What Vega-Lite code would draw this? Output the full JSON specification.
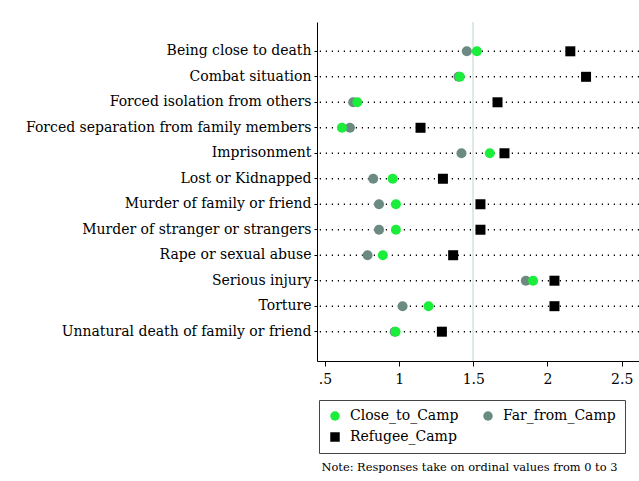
{
  "$schema": "https://vega.github.io/schema/vega-lite/v6.json",
  "width": 322,
  "height": 339,
  "autosize": "none",
  "padding": {"left": 317, "top": 22, "right": 0, "bottom": 120},
  "background": "white",
  "config": {
    "view": {"stroke": null},
    "font": "DejaVu Serif"
  },
  "data": {
    "values": [
      {"event": "Being close to death", "group": "Far_from_Camp", "value": 1.456},
      {"event": "Combat situation", "group": "Far_from_Camp", "value": 1.40},
      {"event": "Forced isolation from others", "group": "Far_from_Camp", "value": 0.69},
      {"event": "Forced separation from family members", "group": "Far_from_Camp", "value": 0.668},
      {"event": "Imprisonment", "group": "Far_from_Camp", "value": 1.42},
      {"event": "Lost or Kidnapped", "group": "Far_from_Camp", "value": 0.825},
      {"event": "Murder of family or friend", "group": "Far_from_Camp", "value": 0.864},
      {"event": "Murder of stranger or strangers", "group": "Far_from_Camp", "value": 0.864},
      {"event": "Rape or sexual abuse", "group": "Far_from_Camp", "value": 0.787},
      {"event": "Serious injury", "group": "Far_from_Camp", "value": 1.854},
      {"event": "Torture", "group": "Far_from_Camp", "value": 1.023},
      {"event": "Unnatural death of family or friend", "group": "Far_from_Camp", "value": 0.97},
      {"event": "Being close to death", "group": "Close_to_Camp", "value": 1.524},
      {"event": "Combat situation", "group": "Close_to_Camp", "value": 1.409},
      {"event": "Forced isolation from others", "group": "Close_to_Camp", "value": 0.718},
      {"event": "Forced separation from family members", "group": "Close_to_Camp", "value": 0.614},
      {"event": "Imprisonment", "group": "Close_to_Camp", "value": 1.611},
      {"event": "Lost or Kidnapped", "group": "Close_to_Camp", "value": 0.956},
      {"event": "Murder of family or friend", "group": "Close_to_Camp", "value": 0.978},
      {"event": "Murder of stranger or strangers", "group": "Close_to_Camp", "value": 0.978},
      {"event": "Rape or sexual abuse", "group": "Close_to_Camp", "value": 0.89},
      {"event": "Serious injury", "group": "Close_to_Camp", "value": 1.903},
      {"event": "Torture", "group": "Close_to_Camp", "value": 1.198},
      {"event": "Unnatural death of family or friend", "group": "Close_to_Camp", "value": 0.976},
      {"event": "Being close to death", "group": "Refugee_Camp", "value": 2.154},
      {"event": "Combat situation", "group": "Refugee_Camp", "value": 2.26},
      {"event": "Forced isolation from others", "group": "Refugee_Camp", "value": 1.663},
      {"event": "Forced separation from family members", "group": "Refugee_Camp", "value": 1.144},
      {"event": "Imprisonment", "group": "Refugee_Camp", "value": 1.71},
      {"event": "Lost or Kidnapped", "group": "Refugee_Camp", "value": 1.295},
      {"event": "Murder of family or friend", "group": "Refugee_Camp", "value": 1.548},
      {"event": "Murder of stranger or strangers", "group": "Refugee_Camp", "value": 1.548},
      {"event": "Rape or sexual abuse", "group": "Refugee_Camp", "value": 1.364},
      {"event": "Serious injury", "group": "Refugee_Camp", "value": 2.047},
      {"event": "Torture", "group": "Refugee_Camp", "value": 2.047},
      {"event": "Unnatural death of family or friend", "group": "Refugee_Camp", "value": 1.288}
    ]
  },
  "layer": [
    {
      "mark": {"type": "rule", "color": "#dfe7e5", "strokeWidth": 1},
      "encoding": {"x": {"datum": 1.5, "type": "quantitative", "scale": {"domain": [0.446, 2.617], "nice": false, "zero": false}}}
    },
    {
      "transform": [{"filter": "datum.group === 'Refugee_Camp'"}],
      "mark": {"type": "rule", "color": "black", "strokeWidth": 1.6, "strokeDash": [1.2, 4.8], "strokeCap": "butt"},
      "encoding": {
        "y": {"field": "event", "type": "nominal", "sort": null, "scale": {"type": "band", "paddingInner": 0, "paddingOuter": 0.65}}
      }
    },
    {
      "mark": {"type": "point", "filled": true, "opacity": 1, "size": 100},
      "encoding": {
        "y": {
          "field": "event", "type": "nominal", "sort": null,
          "scale": {"type": "band", "paddingInner": 0, "paddingOuter": 0.65},
          "axis": {
            "title": null,
            "domainColor": "black",
            "domainWidth": 1,
            "tickColor": "black",
            "tickSize": 3,
            "labelPadding": 3,
            "labelFont": "DejaVu Serif",
            "labelFontSize": 14,
            "labelColor": "black",
            "labelLimit": 400,
            "grid": false
          }
        },
        "x": {
          "field": "value", "type": "quantitative",
          "scale": {"domain": [0.446, 2.617], "nice": false, "zero": false},
          "axis": {
            "values": [0.5, 1, 1.5, 2, 2.5],
            "labelExpr": "datum.value < 1 ? '.5' : format(datum.value, '~g')",
            "grid": false,
            "domainColor": "black",
            "domainWidth": 1,
            "tickColor": "black",
            "tickSize": 5,
            "labelPadding": 6,
            "labelFont": "DejaVu Serif",
            "labelFontSize": 14,
            "labelColor": "black",
            "labelFlush": false,
            "title": "Note: Responses take on ordinal values from 0 to 3",
            "titleFont": "DejaVu Serif",
            "titleFontSize": 11.4,
            "titleFontWeight": "normal",
            "titleColor": "black",
            "titleAnchor": "start",
            "titleAlign": "left",
            "titleBaseline": "middle",
            "titleX": 4,
            "titleY": 106
          }
        },
        "color": {
          "field": "group", "type": "nominal",
          "scale": {"domain": ["Close_to_Camp", "Refugee_Camp", "Far_from_Camp"], "range": ["#1aee3a", "#000000", "#6b8a82"]},
          "legend": {
            "title": null,
            "orient": "none",
            "legendX": 2,
            "legendY": 378,
            "columns": 2,
            "columnPadding": 22,
            "rowPadding": 7,
            "padding": 9,
            "strokeColor": "#444444",
            "symbolSize": 90,
            "symbolOffset": 0,
            "symbolStrokeWidth": 0,
            "labelFont": "DejaVu Serif",
            "labelFontSize": 14,
            "labelColor": "black",
            "labelOffset": 8
          }
        },
        "shape": {
          "field": "group", "type": "nominal",
          "scale": {"domain": ["Close_to_Camp", "Refugee_Camp", "Far_from_Camp"], "range": ["circle", "square", "circle"]}
        }
      }
    }
  ]
}
